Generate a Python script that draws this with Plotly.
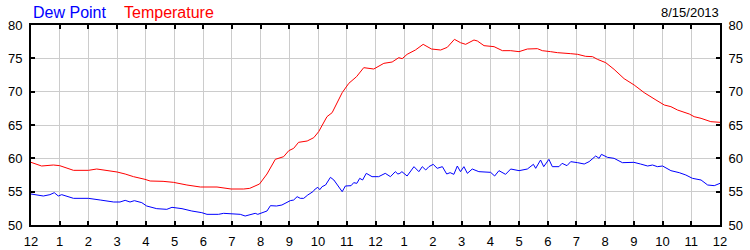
import plotly.graph_objects as go

# hours since midnight (0..24) and values in degrees F
temp_hours = [0, 0.37, 0.78, 1.0, 1.48, 2.0, 2.29, 2.64, 3.0, 3.28, 3.57, 3.97, 4.15, 4.6, 4.96,
              5.43, 5.9, 6.48, 6.97, 7.41, 7.62, 7.96, 8.22, 8.51, 8.8, 8.98, 9.15, 9.32, 9.62,
              9.85, 10.02, 10.31, 10.49, 10.84, 11.07, 11.34, 11.59, 11.94, 12.29, 12.58, 12.81,
              12.93, 13.1, 13.39, 13.66, 13.95, 14.27, 14.5, 14.75, 14.96, 15.14, 15.43, 15.55,
              15.78, 16.13, 16.42, 16.71, 17.0, 17.29, 17.64, 17.81, 18.1, 18.34, 18.8, 19.04,
              19.32, 19.56, 19.73, 20.02, 20.31, 20.66, 21.01, 21.36, 21.77, 22.06, 22.29, 22.52,
              22.93, 23.1, 23.34, 23.68, 24.0]
temp_values = [59.4, 58.85, 59.0, 58.9, 58.2, 58.2, 58.4, 58.2, 57.95, 57.65, 57.25, 56.85, 56.6,
               56.55, 56.4, 56.0, 55.7, 55.7, 55.4, 55.4, 55.5, 56.15, 57.65, 59.85, 60.25, 61.15,
               61.5, 62.4, 62.6, 63.1, 64.0, 66.25, 66.85, 69.85, 71.25, 72.25, 73.6, 73.4, 74.25,
               74.45, 75.1, 74.95, 75.6, 76.25, 77.1, 76.4, 76.25, 76.65, 77.85, 77.35, 77.1,
               77.75, 77.6, 76.9, 76.75, 76.15, 76.15, 76.0, 76.4, 76.45, 76.15, 76.0, 75.85,
               75.7, 75.6, 75.3, 75.25, 74.85, 74.35, 73.35, 71.95, 71.0, 69.85, 68.75, 68.0,
               67.75, 67.25, 66.65, 66.25, 66.0, 65.5, 65.4]

dew_hours = [0, 0.2, 0.43, 0.66, 0.81, 0.95, 1.07, 1.48, 2.0, 2.41, 2.88, 3.1, 3.28, 3.45, 3.6,
             3.86, 4.03, 4.38, 4.73, 4.91, 5.26, 5.6, 5.95, 6.13, 6.53, 6.71, 7.06, 7.29, 7.46,
             7.6, 7.81, 7.9, 8.05, 8.22, 8.34, 8.55, 8.74, 8.92, 9.03, 9.15, 9.27, 9.38, 9.5,
             9.64, 9.73, 9.82, 9.9, 9.99, 10.06, 10.14, 10.26, 10.43, 10.55, 10.84, 10.95, 11.15,
             11.24, 11.35, 11.45, 11.55, 11.68, 11.88, 12.11, 12.34, 12.52, 12.69, 12.78, 12.85,
             12.92, 13.1, 13.34, 13.51, 13.63, 13.75, 13.86, 14.01, 14.15, 14.33, 14.48, 14.6,
             14.73, 14.85, 14.96, 15.08, 15.2, 15.37, 15.6, 16.01, 16.15, 16.3, 16.53, 16.71,
             17.0, 17.29, 17.5, 17.58, 17.75, 17.86, 18.04, 18.16, 18.39, 18.5, 18.67, 18.8,
             19.04, 19.27, 19.44, 19.67, 19.79, 19.87, 20.08, 20.31, 20.6, 21.0, 21.23, 21.48,
             21.65, 21.82, 22.0, 22.29, 22.58, 22.81, 23.04, 23.34, 23.57, 23.8, 24.0]
dew_values = [54.65, 54.5, 54.35, 54.55, 54.85, 54.35, 54.55, 54.0, 54.0, 53.75, 53.45, 53.45,
              53.7, 53.45, 53.65, 53.35, 52.85, 52.45, 52.35, 52.65, 52.45, 52.1, 51.85, 51.6,
              51.6, 51.75, 51.6, 51.6, 51.35, 51.5, 51.75, 51.6, 51.85, 52.1, 52.9, 52.85, 53.0,
              53.35, 53.65, 53.75, 54.25, 54.0, 54.0, 54.5, 54.75, 55.0, 55.4, 55.65, 55.3,
              55.75, 56.0, 57.15, 56.75, 55.0, 55.85, 55.9, 56.35, 56.25, 57.0, 56.75, 57.75,
              57.25, 57.25, 57.75, 57.25, 58.0, 57.65, 57.75, 58.0, 57.35, 58.75, 58.0, 58.75,
              58.25, 58.75, 59.1, 58.5, 58.75, 57.65, 57.85, 57.6, 58.85, 58.0, 58.75, 57.75,
              58.4, 58.0, 57.9, 57.35, 58.15, 57.6, 58.4, 58.15, 58.4, 59.1, 58.5, 59.75, 58.75,
              59.85, 58.75, 58.75, 59.25, 58.9, 59.5, 59.35, 59.15, 59.5, 60.35, 60.0, 60.6,
              60.15, 60.0, 59.35, 59.4, 59.15, 58.85, 59.0, 58.75, 58.85, 58.15, 57.85, 57.5,
              57.0, 56.75, 56.0, 55.9, 56.25]

x_tick_vals = list(range(0, 25))
x_tick_text = ["12", "1", "2", "3", "4", "5", "6", "7", "8", "9", "10", "11",
               "12", "1", "2", "3", "4", "5", "6", "7", "8", "9", "10", "11", "12"]
y_tick_vals = [50, 55, 60, 65, 70, 75, 80]
date_label = "8/15/2013"
series_names = ["Dew Point", "Temperature"]

FONT = "Liberation Sans, Arial, sans-serif"
PLOT_W = 750 - 31 - 30

fig = go.Figure()
fig.add_trace(go.Scatter(x=dew_hours, y=dew_values, mode="lines", name=series_names[0],
                         line=dict(color="#0000FF", width=1), yaxis="y"))
fig.add_trace(go.Scatter(x=temp_hours, y=temp_values, mode="lines", name=series_names[1],
                         line=dict(color="#FF0000", width=1), yaxis="y2"))

axis_common = dict(showline=True, linecolor="black", linewidth=2, ticks="inside",
                   ticklen=4, tickcolor="black", tickwidth=2, automargin=False,
                   tickfont=dict(family=FONT, size=13, color="black"))

fig.update_layout(
    template="none",
    width=750, height=250,
    margin=dict(l=31, r=30, t=25, b=25, pad=0),
    paper_bgcolor="white", plot_bgcolor="white",
    showlegend=False,
    xaxis=dict(range=[0, 24], tickvals=x_tick_vals, ticktext=x_tick_text,
               showgrid=True, gridcolor="#cccccc", gridwidth=1, mirror="ticks",
               zeroline=False, ticklabelstandoff=3, **axis_common),
    yaxis=dict(range=[50, 80], tickvals=y_tick_vals, showgrid=True, gridcolor="#cccccc",
               gridwidth=1, zeroline=False, ticklabelstandoff=4, **axis_common),
    yaxis2=dict(range=[50, 80], tickvals=y_tick_vals, overlaying="y", side="right",
                showgrid=False, zeroline=False, ticklabelstandoff=4, **axis_common),
    annotations=[
        dict(text=series_names[0], x=(33 - 31) / PLOT_W, y=1, xref="paper", yref="paper",
             showarrow=False, font=dict(family=FONT, size=16, color="#0000FF"),
             xanchor="left", yanchor="bottom", yshift=2, xshift=-2),
        dict(text=series_names[1], x=(124 - 31) / PLOT_W, y=1, xref="paper", yref="paper",
             showarrow=False, font=dict(family=FONT, size=16, color="#FF0000"),
             xanchor="left", yanchor="bottom", yshift=2, xshift=-2),
        dict(text=date_label, x=1, y=1, xref="paper", yref="paper",
             showarrow=False, font=dict(family=FONT, size=13, color="black"),
             xanchor="right", yanchor="bottom", yshift=3, xshift=1),
    ],
)

fig.write_html("out.html")
